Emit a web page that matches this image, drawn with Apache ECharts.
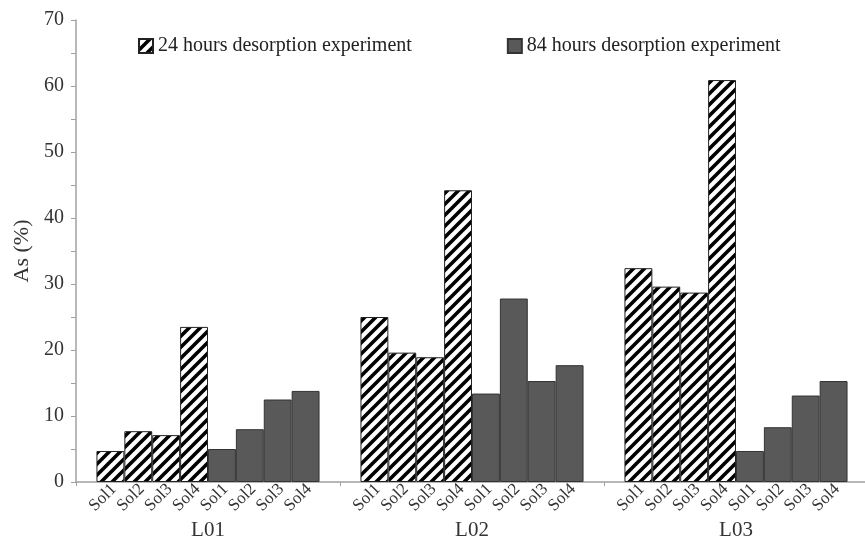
<!DOCTYPE html>
<html>
<head>
<meta charset="utf-8">
<script src="https://cdn.jsdelivr.net/npm/echarts@6/dist/echarts.min.js"></script>
<style>html,body{margin:0;padding:0;background:#fff}#c{width:865px;height:539px}</style>
</head>
<body>
<div id="c"></div>
<script>
const groups = ['L01', 'L02', 'L03'];
const solutions = ['Sol1', 'Sol2', 'Sol3', 'Sol4'];
const seriesNames = ['24 hours desorption experiment', '84 hours desorption experiment'];
const yTicks = [0, 10, 20, 30, 40, 50, 60, 70];

const h24Sol1 = [4.7, 25.0, 32.4];
const h24Sol2 = [7.7, 19.6, 29.6];
const h24Sol3 = [7.1, 18.9, 28.7];
const h24Sol4 = [23.5, 44.2, 60.9];
const h84Sol1 = [5.0, 13.4, 4.7];
const h84Sol2 = [8.0, 27.8, 8.3];
const h84Sol3 = [12.5, 15.3, 13.1];
const h84Sol4 = [13.8, 17.7, 15.3];

const h24 = [h24Sol1, h24Sol2, h24Sol3, h24Sol4];
const h84 = [h84Sol1, h84Sol2, h84Sol3, h84Sol4];

// hatch pattern
const tile = document.createElement('canvas');
const T = 11;
tile.width = T; tile.height = T;
const g = tile.getContext('2d');
g.fillStyle = '#fff';
g.fillRect(0, 0, T, T);
g.strokeStyle = '#000';
g.lineWidth = 3.6;
g.lineCap = 'square';
for (const o of [-T, 0, T]) {
  g.beginPath();
  g.moveTo(o - 2, T + 2);
  g.lineTo(o + T + 2, -2);
  g.stroke();
}
const hatch = { image: tile, repeat: 'repeat' };

const fontFam = '"Liberation Serif", "Times New Roman", serif';

function makeSeries(arrs, name, style) {
  return arrs.map((arr, i) => ({
    type: 'bar',
    name: name,
    data: arr,
    barGap: '0%',
    barCategoryGap: '15.5%',
    itemStyle: style,
    emphasis: { disabled: true },
    label: {
      show: true,
      position: 'bottom',
      distance: 8,
      rotate: 45,
      align: 'right',
      verticalAlign: 'middle',
      offset: [5, 0],
      formatter: () => solutions[i],
      fontFamily: fontFam,
      fontSize: 17,
      color: '#333'
    }
  }));
}

const series = [].concat(
  makeSeries(h24, seriesNames[0], { color: hatch, borderColor: '#222', borderWidth: 1 }),
  makeSeries(h84, seriesNames[1], { color: '#595959', borderColor: '#333', borderWidth: 1 })
);

const chart = echarts.init(document.getElementById('c'), null, { renderer: 'canvas' });
chart.setOption({
  animation: false,
  backgroundColor: '#fff',
  grid: { left: 76, right: -3, top: 20, bottom: 57, containLabel: false, outerBoundsMode: 'none' },
  legend: {
    data: seriesNames,
    icon: 'rect',
    left: 133,
    top: 31,
    itemWidth: 14,
    itemHeight: 14,
    itemGap: 95,
    textStyle: { fontFamily: fontFam, fontSize: 20, color: '#222' }
  },
  xAxis: {
    type: 'category',
    data: groups,
    axisLine: { lineStyle: { color: '#a0a0a0', width: 1.5 } },
    axisTick: { show: true, length: 4, lineStyle: { color: '#a0a0a0' } },
    axisLabel: { margin: 38, fontFamily: fontFam, fontSize: 21, color: '#333' }
  },
  yAxis: {
    type: 'value',
    min: yTicks[0],
    max: yTicks[yTicks.length - 1],
    interval: 10,
    name: 'As (%)',
    nameLocation: 'middle',
    nameGap: 42,
    nameTextStyle: { fontFamily: fontFam, fontSize: 22, color: '#333' },
    axisLine: { show: true, lineStyle: { color: '#a0a0a0', width: 1.5 } },
    axisTick: { show: true, length: 5, lineStyle: { color: '#a0a0a0' } },
    minorTick: { show: true, splitNumber: 2, length: 5, lineStyle: { color: '#a0a0a0' } },
    splitLine: { show: false },
    axisLabel: { margin: 12, fontFamily: fontFam, fontSize: 20, color: '#333' }
  },
  series: series
});
</script>
</body>
</html>
